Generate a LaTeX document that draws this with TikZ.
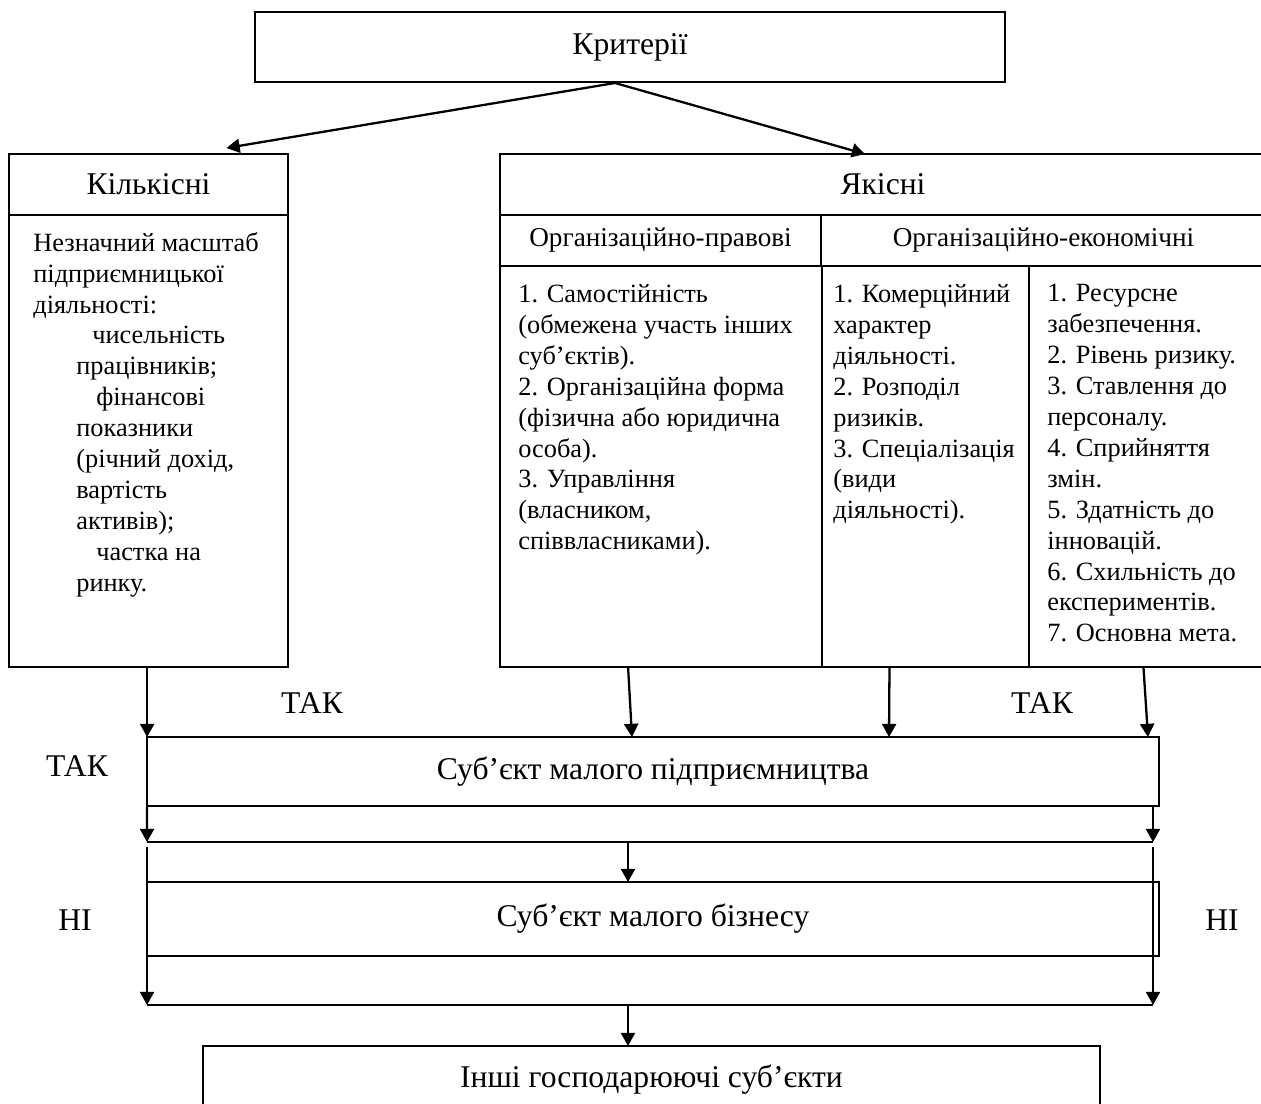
\documentclass[tikz,border=0pt]{standalone}
\usepackage{fontspec}
\setmainfont{Liberation Serif}
\usetikzlibrary{positioning,calc,arrows.meta}

\begin{document}
\begin{tikzpicture}[x=0.02cm,y=-0.02cm,
  box/.style={draw,line width=1.2pt,inner sep=0pt,outer sep=0pt,font=\fontsize{18}{21}\selectfont},
  hbox/.style={draw,line width=1.2pt,inner sep=0pt,outer sep=0pt,font=\fontsize{15.5}{18}\selectfont},
  txt/.style={anchor=north west,align=left,inner sep=0pt,font=\fontsize{15}{17.6}\selectfont},
  lbl/.style={font=\fontsize{18}{21}\selectfont},
  arr/.style={line width=1.3pt,-{Triangle[width=8pt,length=7.5pt]}},
  ln/.style={line width=1.3pt}]

\useasboundingbox (0,0) rectangle (1261,1104);

\node[box,minimum width=15cm,minimum height=1.4cm] (crit) at (630,47) {Критерії};

\node[box,minimum width=5.58cm,minimum height=1.22cm] (kilhead) at (148.5,184.5) {Кількісні};
\node[box,minimum width=5.58cm,minimum height=9.04cm,below=0pt of kilhead] (kilbody) {};

\node[box,minimum width=15.32cm,minimum height=1.22cm] (yakhead) at (883,184.5) {Якісні};
\node[hbox,minimum width=6.42cm,minimum height=1.02cm,below right=0pt and 0pt of yakhead.south west] (orgpr) {Організаційно-правові};
\node[hbox,minimum width=8.9cm,minimum height=1.02cm,right=0pt of orgpr] (orgek) {Організаційно-економічні};
\node[box,minimum width=6.44cm,minimum height=8.02cm,below right=0pt and 0pt of orgpr.south west] (col1) {};
\node[box,minimum width=4.14cm,minimum height=8.02cm,right=0pt of col1] (col2) {};
\node[box,minimum width=4.74cm,minimum height=8.02cm,right=0pt of col2] (col3) {};

\node[txt] (kiltext) at (33,232) {Незначний масштаб\\
підприємницької\\
діяльності:\\
\hspace*{1.18cm}чисельність\\
\hspace*{0.86cm}працівників;\\
\hspace*{1.26cm}фінансові\\
\hspace*{0.86cm}показники\\
\hspace*{0.86cm}(річний дохід,\\
\hspace*{0.86cm}вартість\\
\hspace*{0.86cm}активів);\\
\hspace*{1.26cm}частка на\\
\hspace*{0.86cm}ринку.};

\node[txt] (text1) at (518,284) {1. Самостійність\\
(обмежена участь інших\\
суб’єктів).\\
2. Організаційна форма\\
(фізична або юридична\\
особа).\\
3. Управління\\
(власником,\\
співвласниками).};

\node[txt] (text2) at (833,284) {1. Комерційний\\
характер\\
діяльності.\\
2. Розподіл\\
ризиків.\\
3. Спеціалізація\\
(види\\
діяльності).};

\node[txt] (text3) at (1047,284) {1. Ресурсне\\
забезпечення.\\
2. Рівень ризику.\\
3. Ставлення до\\
персоналу.\\
4. Сприйняття\\
змін.\\
5. Здатність до\\
інновацій.\\
6. Схильність до\\
експериментів.\\
7. Основна мета.};

\node[box,minimum width=20.24cm,minimum height=1.38cm] (smp) at (653,771.5) {Суб’єкт малого підприємництва};
\node[box,minimum width=20.24cm,minimum height=1.48cm] (smb) at (653,919) {\raisebox{4pt}{Суб’єкт малого бізнесу}};
\node[box,minimum width=17.94cm,minimum height=1.36cm] (other) at (651.5,1080) {Інші господарюючі суб’єкти};

\node[lbl] (tak1) at (312,703) {ТАК};
\node[lbl] (tak2) at (1042,703) {ТАК};
\node[lbl] (tak3) at (77,766) {ТАК};
\node[lbl] (ni1) at (75,920) {НІ};
\node[lbl] (ni2) at (1222,920) {НІ};

\coordinate (apex) at ($(crit.south)+(-15,1)$);
\draw[arr] (apex) -- ($(kilhead.north)+(78,-6)$);
\draw[arr] (apex) -- ($(yakhead.north)+(-18,0)$);

\draw[arr] (kilbody.south -| smp.north west) -- (smp.north west);
\draw[arr] ($(col1.south)+(-33,0)$) -- ($(smp.north)+(-21,0)$);
\draw[arr] ($(col2.south)+(-36,0)$) -- ($(smp.north)+(236,0)$);
\draw[arr] ($(col3.south)+(-4,0)$) -- ($(smp.north)+(495,0)$);

\coordinate (l1w) at (147,842);
\coordinate (l1e) at (1153,842);
\coordinate (l1m) at (628,842);
\draw[ln] (l1w) -- (l1e);
\draw[arr] (smp.south west) -- (l1w);
\draw[arr] (smp.south -| l1e) -- (l1e);
\draw[arr] (l1m) -- (l1m |- smb.north);

\coordinate (l2w) at (147,1005);
\coordinate (l2e) at (1153,1005);
\coordinate (l2m) at (628,1005);
\draw[ln] (l2w) -- (l2e);
\draw[arr] ($(l1w)+(0,5)$) -- (l2w);
\draw[arr] ($(l1e)+(0,5)$) -- (l2e);
\draw[arr] (l2m) -- (l2m |- other.north);

\end{tikzpicture}
\end{document}
